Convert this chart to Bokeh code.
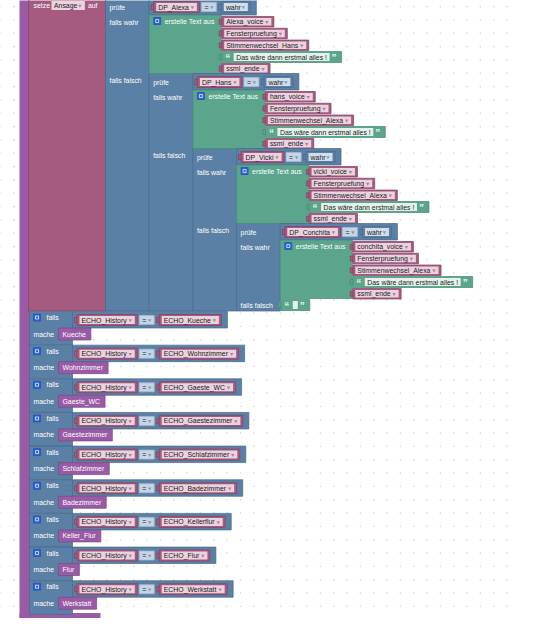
import numpy as np
from bokeh.plotting import figure
from bokeh.models import ColumnDataSource, Range1d
from bokeh.core.properties import value
from bokeh.embed import file_html
from bokeh.resources import INLINE

# ---------------- data (texts of the block program) ----------------
set_label = "setze"
set_var = "Ansage"
set_to = "auf"
check_label = "prüfe"
true_label = "falls wahr"
false_label = "falls falsch"
join_label = "erstelle Text aus"
eq_label = "="
bool_label = "wahr"
dp_vars = ["DP_Alexa", "DP_Hans", "DP_Vicki", "DP_Conchita"]
voice_vars = ["Alexa_voice", "hans_voice", "vicki_voice", "conchita_voice"]
check_var = "Fensterpruefung"
switch_vars = ["Stimmenwechsel_Hans", "Stimmenwechsel_Alexa",
               "Stimmenwechsel_Alexa", "Stimmenwechsel_Alexa"]
closing_text = "Das wäre dann erstmal alles !"
end_var = "ssml_ende"
if_label = "falls"
do_label = "mache"
history_var = "ECHO_History"
echo_vars = ["ECHO_Kueche", "ECHO_Wohnzimmer", "ECHO_Gaeste_WC", "ECHO_Gaestezimmer",
             "ECHO_Schlafzimmer", "ECHO_Badezimmer", "ECHO_Kellerflur", "ECHO_Flur",
             "ECHO_Werkstatt"]
room_calls = ["Kueche", "Wohnzimmer", "Gaeste_WC", "Gaestezimmer", "Schlafzimmer",
              "Badezimmer", "Keller_Flur", "Flur", "Werkstatt"]

# ---------------- style ----------------
FS = 6.9
FONT = "Liberation Sans"
MAROON, MAROON_D = "#a55b80", "#7f4262"
BLUE, BLUE_D = "#5b80a5", "#48698b"
GREEN, GREEN_D = "#5ba58c", "#478a73"
PURPLE, PURPLE_D = "#995ba5", "#7b4687"
F_PINK, F_BLUE, F_BLUE2, F_GREEN = "#ead2de", "#c6d4e4", "#d3deea", "#e4f2ec"
DARK, WHITE = "#1b1b1b", "#ffffff"
ICON = "#2d62d8"

CW = {' ': 278, '!': 278, '_': 556, '=': 584,
      'A': 667, 'B': 667, 'C': 722, 'D': 722, 'E': 667, 'F': 611, 'G': 778, 'H': 722,
      'I': 278, 'J': 500, 'K': 667, 'L': 556, 'M': 833, 'N': 722, 'O': 778, 'P': 667,
      'Q': 778, 'R': 722, 'S': 667, 'T': 611, 'U': 722, 'V': 667, 'W': 944, 'X': 667,
      'Y': 667, 'Z': 611,
      'a': 556, 'b': 556, 'c': 500, 'd': 556, 'e': 556, 'f': 278, 'g': 556, 'h': 556,
      'i': 222, 'j': 222, 'k': 500, 'l': 222, 'm': 833, 'n': 556, 'o': 556, 'p': 556,
      'q': 556, 'r': 333, 's': 500, 't': 278, 'u': 556, 'v': 500, 'w': 722, 'x': 500,
      'y': 500, 'z': 500, 'ä': 556, 'ü': 556}


def tw(s, fs=FS):
    return sum(CW.get(c, 556) for c in s) * fs / 1000.0


R = dict(l=[], r=[], t=[], b=[], fill=[], line=[], la=[])
T = dict(x=[], y=[], s=[], c=[], fs=[], fw=[])
A = dict(x=[], y=[], c=[])


def box(l, r, t, b, fill, line=None):
    R['l'].append(l); R['r'].append(r); R['t'].append(t); R['b'].append(b)
    R['fill'].append(fill); R['line'].append(line if line else fill)
    R['la'].append(1.0 if line else 0.0)


def label(x, y, s, c=WHITE, fs=FS, bold=False):
    T['x'].append(x); T['y'].append(y); T['s'].append(s); T['c'].append(c)
    T['fs'].append("%.1fpx" % fs); T['fw'].append("bold" if bold else "normal")


def arrow(x, y, c):
    A['x'].append(x); A['y'].append(y); A['c'].append(c)


def var_w(name):
    return tw(name) + 15


def draw_var(x, yc, name, h=11):
    w = var_w(name)
    box(x - 2.5, x + 1, yc - 2.5, yc + 2.5, MAROON, MAROON_D)
    box(x, x + w, yc - h / 2, yc + h / 2, MAROON, MAROON_D)
    box(x + 2.5, x + w - 2.5, yc - h / 2 + 1.5, yc + h / 2 - 1.5, F_PINK)
    label(x + 4.5, yc, name, DARK)
    arrow(x + w - 7, yc + 0.3, "#b47e98")
    return x + w


def draw_eq(x, yc):
    box(x, x + 15, yc - 4.5, yc + 4.5, F_BLUE, "#a8bcd1")
    label(x + 3, yc, eq_label, DARK)
    arrow(x + 10.5, yc + 0.3, "#7f9bb8")
    return x + 15


def bool_w(s):
    return tw(s) + 14


def draw_bool(x, yc, s, h=11):
    w = bool_w(s)
    box(x - 2.5, x + 1, yc - 2.5, yc + 2.5, BLUE, BLUE_D)
    box(x, x + w, yc - h / 2, yc + h / 2, BLUE, BLUE_D)
    box(x + 2.5, x + w - 2.5, yc - h / 2 + 1.5, yc + h / 2 - 1.5, F_BLUE2)
    label(x + 4.5, yc, s, DARK)
    arrow(x + w - 7, yc + 0.3, "#7f9bb8")
    return x + w


def compare_w(lhs, rhs_kind, rhs):
    rw = bool_w(rhs) if rhs_kind == "bool" else var_w(rhs)
    return 4.5 + var_w(lhs) + 2 + 15 + 5 + rw + 6


def draw_compare(x, top, lhs, rhs_kind, rhs):
    w = compare_w(lhs, rhs_kind, rhs)
    box(x, x + w, top, top + 16.5, BLUE, BLUE_D)
    yc = top + 8.5
    xe = draw_var(x + 4.5, yc, lhs)
    xe = draw_eq(xe + 2, yc)
    if rhs_kind == "bool":
        draw_bool(xe + 5, yc, rhs)
    else:
        draw_var(xe + 5, yc, rhs)


def draw_text(x, yc, s, h=11):
    fw = tw(s) + 5 if s else 5
    fl = x + 12
    end = fl + fw + 12
    box(x - 2.5, x + 1, yc - 2.5, yc + 2.5, GREEN, GREEN_D)
    box(x, end, yc - h / 2, yc + h / 2, GREEN, GREEN_D)
    box(fl, fl + fw, yc - h / 2 + 1.5, yc + h / 2 - 1.5, F_GREEN)
    label(x + 3.5, yc + 1.5, "\u201c", "#e8f4ee", fs=10, bold=True)
    label(fl + fw + 2, yc + 1.5, "\u201d", "#e8f4ee", fs=10, bold=True)
    if s:
        label(fl + 2.5, yc, s, DARK)


def draw_icon(x, y):
    box(x, x + 7, y, y + 7, ICON, "#1f4fb8")
    box(x + 2, x + 5, y + 2, y + 5, ICON, WHITE)


def draw_join(x, top, items):
    box(x, x + 72, top, top + 58.5, GREEN, GREEN_D)
    draw_icon(x + 4.5, top + 2.5)
    label(x + 15.5, top + 6, join_label)
    xi = x + 72
    for k, (kind, s) in enumerate(items):
        yc = top + 6.75 + 11.75 * k
        if kind == "var":
            draw_var(xi + 0.5, yc, s, h=10.5)
        else:
            draw_text(xi + 0.5, yc, s)


# ---------------- figure ----------------
p = figure(width=518, height=618, x_range=Range1d(0, 518), y_range=Range1d(618, 0),
           output_backend="svg", toolbar_location=None, min_border=0)
p.axis.visible = False
p.grid.visible = False
p.outline_line_color = None
p.background_fill_color = WHITE
p.border_fill_color = WHITE

# workspace dot grid
gx, gy = np.meshgrid(np.arange(0, 540, 13.33), np.arange(6, 640, 13.33))
p.scatter(gx.ravel(), gy.ravel(), marker="square", size=1.4, color="#d4d4d4", line_color=None)

# procedure (outer purple)
box(19, 29.5, -10, 620, PURPLE)
box(19, 100, 612.5, 620, PURPLE)

# set variable block
box(28, 105.5, -10, 310.5, MAROON, MAROON_D)
label(33, 5, set_label)
fw = tw(set_var) + 10
box(51, 51 + fw, 0.5, 9.5, F_PINK)
label(53.5, 5, set_var, DARK)
arrow(51 + fw - 5, 5.3, "#b47e98")
label(51 + fw + 3, 5, set_to)

# nested ternaries
COLW = 43.7
for i in range(len(dp_vars)):
    x0 = 105 + COLW * i
    y0 = -2 + 75 * i
    box(x0, x0 + COLW, y0, 310.5, BLUE, BLUE_D)
for i in range(len(dp_vars)):
    x0 = 105 + COLW * i
    y0 = -2 + 75 * i
    label(x0 + 4, y0 + 8.5, check_label)
    label(x0 + 4, y0 + 23.5, true_label)
    label(x0 + 4, y0 + 82, false_label)
    draw_compare(x0 + COLW, y0, dp_vars[i], "bool", bool_label)
    draw_join(x0 + COLW, y0 + 16.5,
              [("var", voice_vars[i]), ("var", check_var), ("var", switch_vars[i]),
               ("text", closing_text), ("var", end_var)])
    if i == len(dp_vars) - 1:
        draw_text(x0 + COLW + 0.5, y0 + 81.5, "")

# if blocks
PITCH = 33.65
for k in range(len(echo_vars)):
    top = 311 + PITCH * k
    box(29, 72, top, top + PITCH, BLUE, BLUE_D)
    draw_compare(72, top, history_var, "var", echo_vars[k])
    draw_icon(33, top + 2.5)
    label(46, top + 6, if_label)
    label(33, top + 22.5, do_label)
    cw = tw(room_calls[k]) + 9
    box(58, 58 + cw, top + 16.5, top + 28.5, PURPLE, PURPLE_D)
    label(62, top + 22.5, room_calls[k])

src = ColumnDataSource(R)
p.quad(left='l', right='r', top='t', bottom='b', fill_color='fill', line_color='line',
       line_alpha='la', line_width=0.7, source=src)
p.scatter(x='x', y='y', color='c', marker="inverted_triangle", size=3.5,
          line_color=None, source=ColumnDataSource(A))
p.text(x='x', y='y', text='s', text_color='c', text_font_size='fs', text_font_style='fw',
       text_font=value(FONT), text_baseline="middle", text_align="left",
       source=ColumnDataSource(T))

open("out.html", "w").write(file_html(p, INLINE))
